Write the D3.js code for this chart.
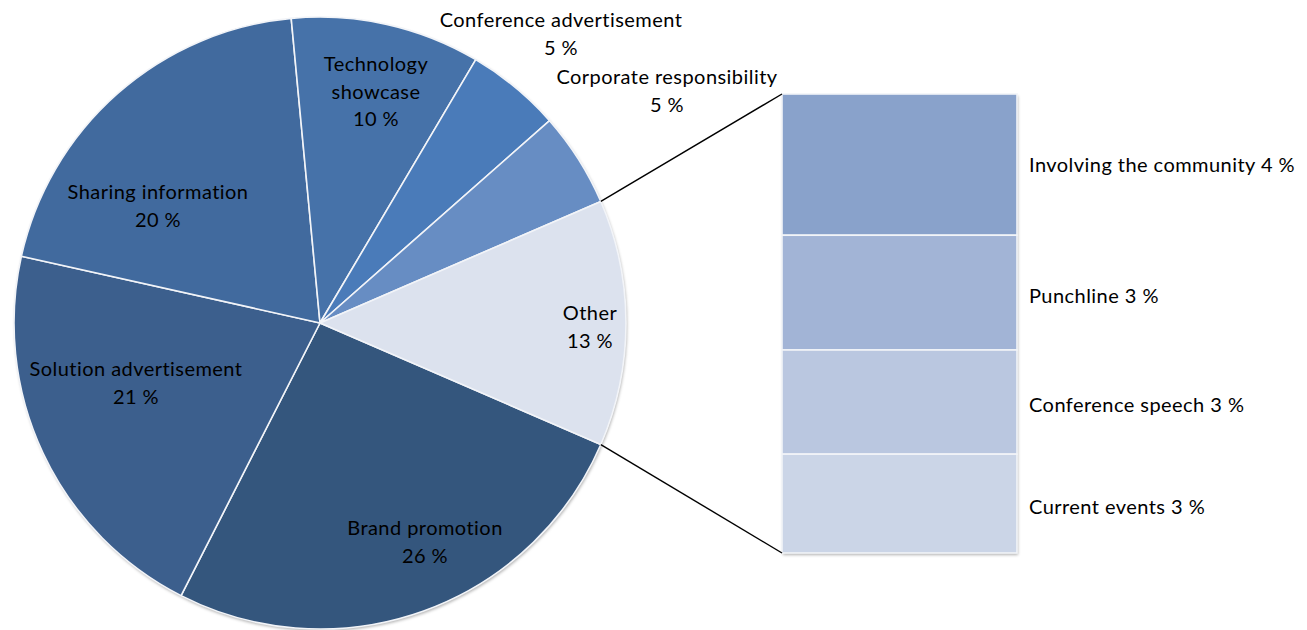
<!DOCTYPE html>
<html>
<head>
<meta charset="utf-8">
<script src="https://cdn.jsdelivr.net/npm/d3@7"></script>
<style>
  html, body { margin: 0; padding: 0; background: #ffffff; }
  svg { display: block; }
  text { font-family: Lato, "Open Sans", "Liberation Sans", sans-serif; fill: #000; letter-spacing: 0.45px; }
</style>
</head>
<body>
<svg id="chart" width="1307" height="630"></svg>
<script>
// Main pie: communication purposes (percent), clockwise starting after "Other"
const pieCategories = [
  "Brand promotion",
  "Solution advertisement",
  "Sharing information",
  "Technology showcase",
  "Conference advertisement",
  "Corporate responsibility"
];
const pieValues = [26, 21, 20, 10, 5, 5];
const pieColors = ["#34567d", "#3c5f8d", "#416a9e", "#4672a9", "#4a7bb9", "#678dc3"];

// Breakdown of "Other" shown in the stacked bar (top to bottom)
const otherCategories = ["Involving the community", "Punchline", "Conference speech", "Current events"];
const otherValues = [4.0, 3.25, 2.95, 2.8];
const otherColors = ["#89a2cb", "#a2b4d6", "#bac7e0", "#cbd5e7"];
const otherLabel = "Other";
const otherColor = "#dce2ee";

const fmt = v => d3.format(".0f")(v) + " %";

const svg = d3.select("#chart");

const defs = svg.append("defs");
const shadow = defs.append("filter").attr("id", "soft")
  .attr("x", "-5%").attr("y", "-5%").attr("width", "110%").attr("height", "110%");
shadow.append("feDropShadow")
  .attr("dx", 1).attr("dy", 2).attr("stdDeviation", 1.6)
  .attr("flood-color", "#000").attr("flood-opacity", 0.3);

// ---- pie ----
const cx = 320, cy = 323, radius = 306;
const otherTotal = d3.sum(otherValues);
const slices = pieCategories.map((c, i) => ({ name: c, value: pieValues[i], color: pieColors[i] }))
  .concat([{ name: otherLabel, value: otherTotal, color: otherColor }]);
const total = d3.sum(slices, d => d.value);

// "Other" is centred on the 3 o'clock direction, facing the bar
const otherSpan = otherTotal / total * 2 * Math.PI;
const start = Math.PI / 2 + otherSpan / 2;
const pie = d3.pie().sort(null).value(d => d.value)
  .startAngle(start).endAngle(start + 2 * Math.PI);
const arcs = pie(slices);
const arc = d3.arc().innerRadius(0).outerRadius(radius);

const gPie = svg.append("g").attr("transform", `translate(${cx},${cy})`);
gPie.append("circle").attr("r", radius).attr("fill", "#ccc").attr("filter", "url(#soft)");
gPie.selectAll("path.slice").data(arcs).join("path")
  .attr("class", "slice")
  .attr("d", arc)
  .attr("fill", d => d.data.color)
  .attr("stroke", "#f2f4f8")
  .attr("stroke-width", 1.6)
  .attr("stroke-linejoin", "round");

// label anchor points (visual centre of first line) for each slice
const labelLayout = {
  "Brand promotion":          { x: 425, y: 528, lines: ["Brand promotion"] },
  "Solution advertisement":   { x: 136, y: 369, lines: ["Solution advertisement"] },
  "Sharing information":      { x: 158, y: 192, lines: ["Sharing information"] },
  "Technology showcase":      { x: 376, y: 64,  lines: ["Technology", "showcase"] },
  "Conference advertisement": { x: 561, y: 20,  lines: ["Conference advertisement"] },
  "Corporate responsibility": { x: 667, y: 77,  lines: ["Corporate responsibility"] },
  "Other":                    { x: 590, y: 313, lines: ["Other"] }
};
const lineGap = 27.5;
const fontSize = 20;
const baseShift = 7;

arcs.forEach(a => {
  const L = labelLayout[a.data.name];
  const lines = L.lines.concat([fmt(a.data.value)]);
  const t = svg.append("text")
    .attr("text-anchor", "middle")
    .attr("font-size", fontSize);
  lines.forEach((ln, i) => {
    t.append("tspan").attr("x", L.x).attr("y", L.y + i * lineGap + baseShift).text(ln);
  });
});

// ---- stacked bar for "Other" ----
const barX0 = 782, barX1 = 1017, barTop = 94, barBottom = 553;
const y = d3.scaleLinear().domain([0, otherTotal]).range([barTop, barBottom]);
let acc = 0;
const segs = otherValues.map((v, i) => {
  const s = { name: otherCategories[i], value: v, y0: acc, y1: acc + v, color: otherColors[i] };
  acc += v;
  return s;
});

const gBar = svg.append("g");
gBar.append("rect")
  .attr("x", barX0).attr("y", y(0))
  .attr("width", barX1 - barX0).attr("height", y(otherTotal) - y(0))
  .attr("fill", "#ccc").attr("filter", "url(#soft)");
gBar.selectAll("rect.seg").data(segs).join("rect")
  .attr("class", "seg")
  .attr("x", barX0)
  .attr("y", d => y(d.y0))
  .attr("width", barX1 - barX0)
  .attr("height", d => y(d.y1) - y(d.y0))
  .attr("fill", d => d.color)
  .attr("stroke", "#f2f4f8")
  .attr("stroke-width", 1.6);

gBar.selectAll("text.seglabel").data(segs).join("text")
  .attr("class", "seglabel")
  .attr("x", barX1 + 12)
  .attr("y", (d, i) => (y(d.y0) + y(d.y1)) / 2 + baseShift + (i === 0 ? 0 : 3))
  .attr("font-size", fontSize)
  .text(d => d.name + "\u00a0" + fmt(d.value));

// ---- connector lines from the "Other" slice edges to the bar corners ----
const otherArc = arcs.find(a => a.data.name === otherLabel);
const edgePoint = ang => [cx + radius * Math.sin(ang), cy - radius * Math.cos(ang)];
const pTop = edgePoint(otherArc.startAngle);
const pBot = edgePoint(otherArc.endAngle);
svg.append("line")
  .attr("x1", pTop[0]).attr("y1", pTop[1]).attr("x2", barX0).attr("y2", y(0))
  .attr("stroke", "#000").attr("stroke-width", 1.4);
svg.append("line")
  .attr("x1", pBot[0]).attr("y1", pBot[1]).attr("x2", barX0).attr("y2", y(otherTotal))
  .attr("stroke", "#000").attr("stroke-width", 1.4);
</script>
</body>
</html>
